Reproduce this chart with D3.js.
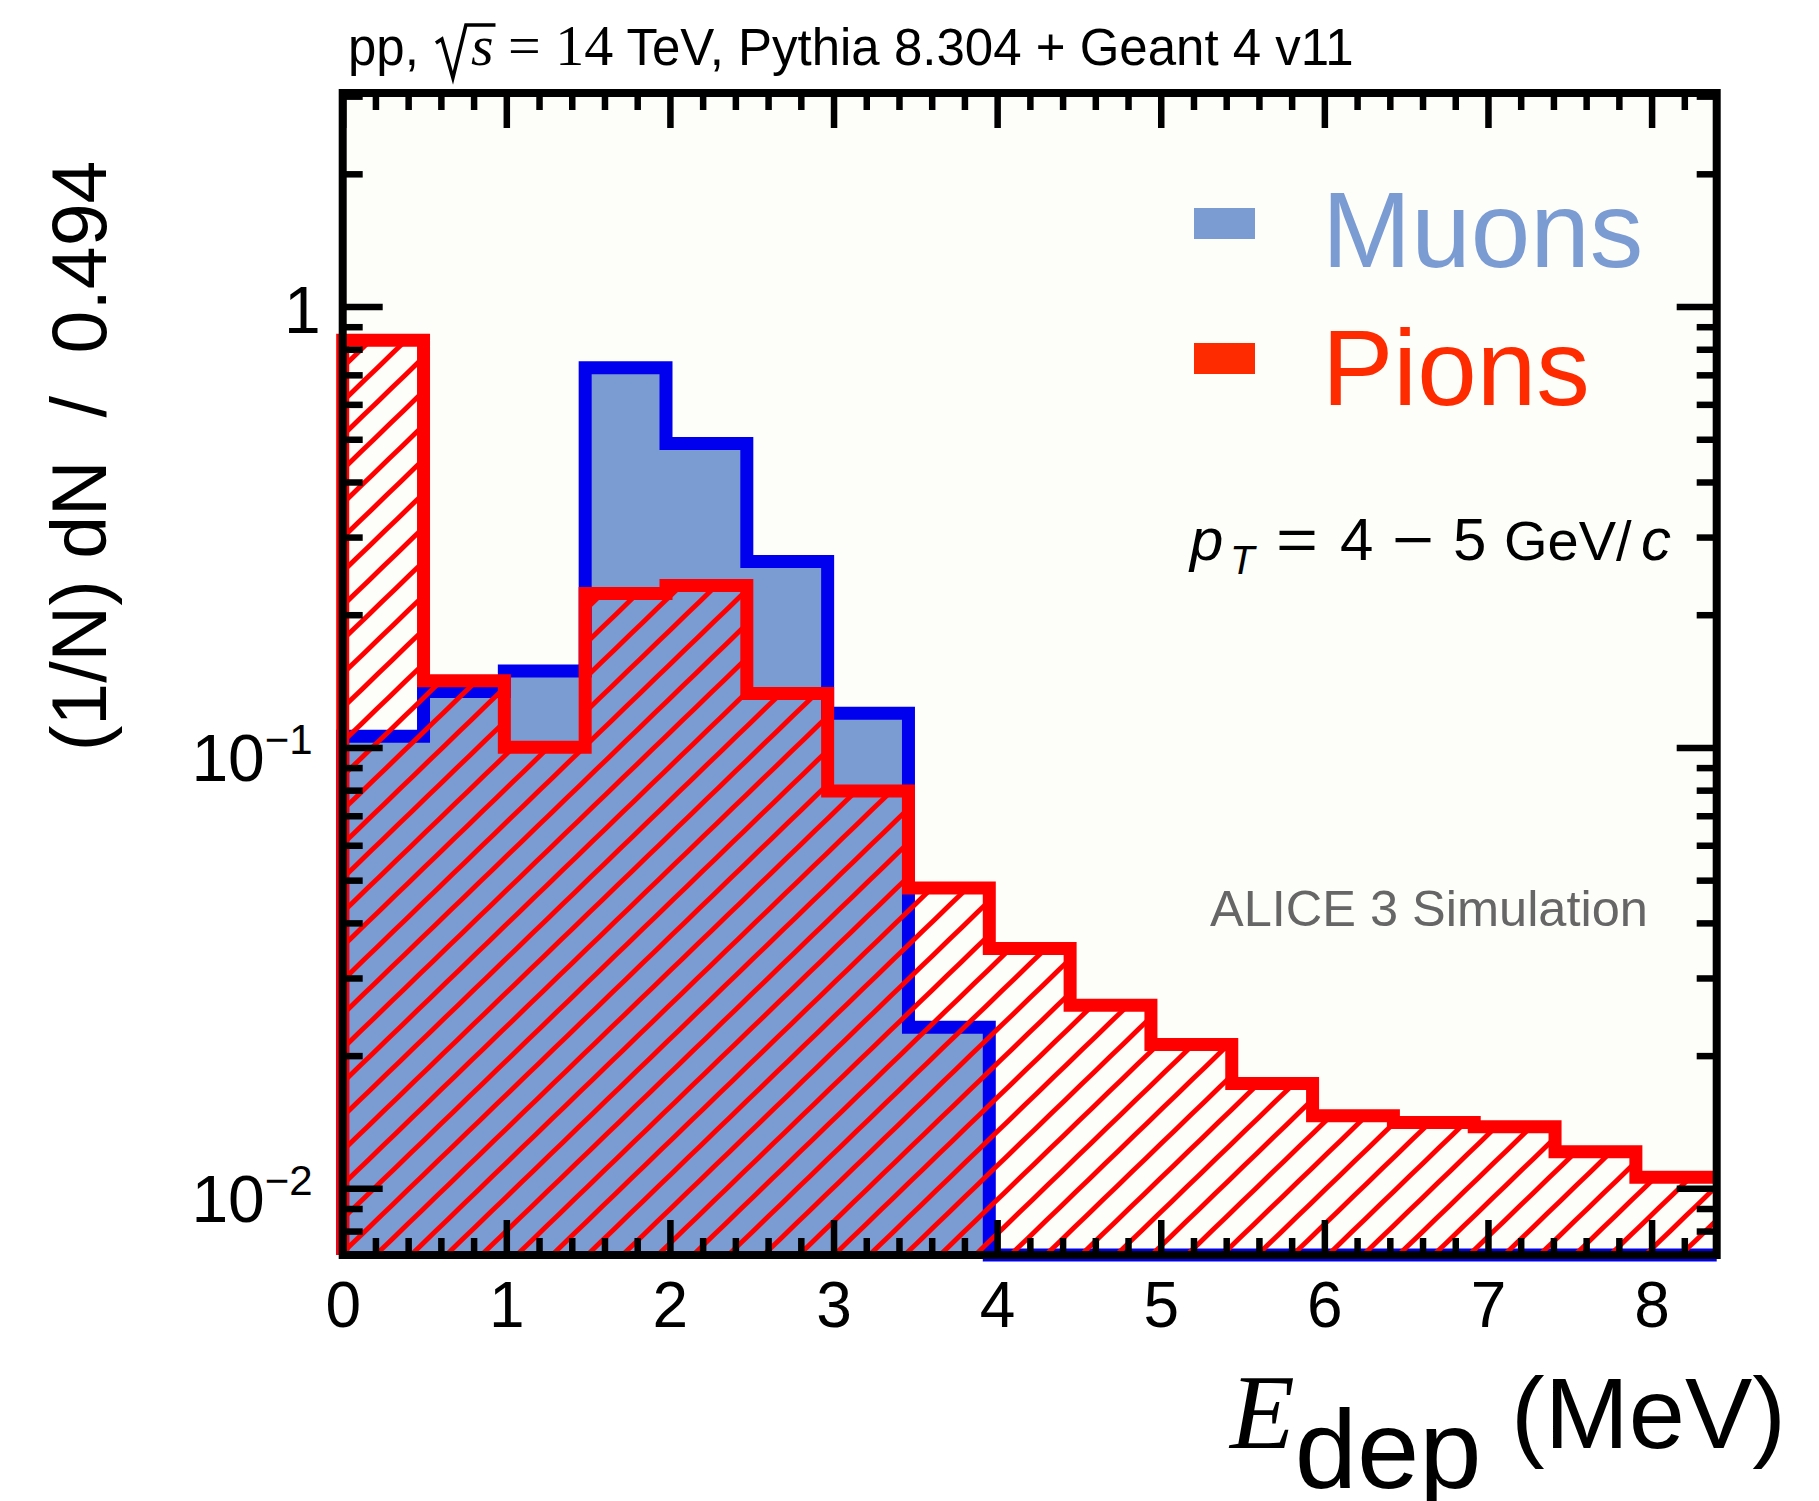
<!DOCTYPE html>
<html><head><meta charset="utf-8">
<script src="https://cdn.jsdelivr.net/npm/d3@7"></script>
<style>
html,body{margin:0;padding:0;background:#fff;}
svg{display:block;}
text{font-family:"Liberation Sans",Arial,Helvetica,sans-serif;}
</style></head><body>
<svg id="chart" width="1819" height="1501" fill="#000"></svg>
<script>
// ---- data ----
const binEdges = [0, 0.494, 0.988, 1.482, 1.976, 2.47, 2.964, 3.458, 3.952, 4.446, 4.94, 5.434, 5.928, 6.422, 6.916, 7.41, 7.904, 8.398];
const muonValues = [0.106, 0.134, 0.149, 0.726, 0.489, 0.264, 0.1195, 0.0232, 0, 0, 0, 0, 0, 0, 0, 0, 0];
const pionValues = [0.838, 0.1416, 0.1001, 0.2235, 0.233, 0.1325, 0.0797, 0.048, 0.035, 0.026, 0.0212, 0.0173, 0.0146, 0.0141, 0.0138, 0.0121, 0.0106];
const seriesNames = ["Muons", "Pions"];
const xMajorTicks = [0, 1, 2, 3, 4, 5, 6, 7, 8];
const xMinorTicks = [0.2, 0.4, 0.6, 0.8, 1.2, 1.4, 1.6, 1.8, 2.2, 2.4, 2.6, 2.8, 3.2, 3.4, 3.6, 3.8, 4.2, 4.4, 4.6, 4.8, 5.2, 5.4, 5.6, 5.8, 6.2, 6.4, 6.6, 6.8, 7.2, 7.4, 7.6, 7.8, 8.2];
const yMajorTicks = [0.01, 0.1, 1];
const yMajorLabels = [["10", "−2"], ["10", "−1"], ["1", ""]];
const yMinorTicks = [0.008, 0.009, 0.02, 0.03, 0.04, 0.05, 0.06, 0.07, 0.08, 0.09, 0.2, 0.3, 0.4, 0.5, 0.6, 0.7, 0.8, 0.9, 2, 3];
const xDomain = [0, 8.398];
const yDomain = [0.00706, 3.05];

// ---- layout ----
const SERIF = "Liberation Serif, Times New Roman, serif";
const SANS = "Liberation Sans, Arial, sans-serif";
const L = 342.7, R = 1716.7, T = 93, B = 1255;
const svg = d3.select("#chart");
const x = d3.scaleLinear().domain(xDomain).range([L, R]);
const y = d3.scaleLog().domain(yDomain).range([B, T]);
const yc = v => y(Math.max(v, yDomain[0]));

const defs = svg.append("defs");
const pat = defs.append("pattern").attr("id", "hatch").attr("patternUnits", "userSpaceOnUse")
  .attr("width", 40).attr("height", 24.5).attr("patternTransform", "rotate(-44)");
pat.append("line").attr("x1", -5).attr("x2", 45).attr("y1", 12.25).attr("y2", 12.25)
  .attr("stroke", "#ff0000").attr("stroke-width", 5);

// frame background
svg.append("rect").attr("x", L).attr("y", T).attr("width", R - L).attr("height", B - T).attr("fill", "#fdfdf9");

function pts(vals) {
  const p = vals.map((v, i) => [binEdges[i], v]);
  p.push([binEdges[binEdges.length - 1], vals[vals.length - 1]]);
  return p;
}
const area = d3.area().curve(d3.curveStepAfter).x(d => x(d[0])).y0(B).y1(d => yc(d[1]));
const line = d3.line().curve(d3.curveStepAfter).x(d => x(d[0])).y(d => yc(d[1]));

// muons
const mp = pts(muonValues);
svg.append("path").attr("d", area(mp)).attr("fill", "#7b9bd3");
svg.append("path").attr("d", line([[0, 0]].concat(mp)))
  .attr("fill", "none").attr("stroke", "#0000ee").attr("stroke-width", 13);

// pions
const pp = pts(pionValues);
svg.append("path").attr("d", area(pp)).attr("fill", "url(#hatch)");
svg.append("path").attr("d", line([[0, 0]].concat(pp)))
  .attr("fill", "none").attr("stroke", "#ff0000").attr("stroke-width", 13);

// axes
function styleAxis(g) {
  g.select(".domain").remove();
  g.selectAll(".tick line").attr("stroke", "#000").attr("stroke-width", 6.5);
}
svg.append("g").attr("transform", `translate(0,${B})`)
  .call(d3.axisBottom(x).tickValues(xMinorTicks).tickSize(-17).tickSizeOuter(0).tickFormat(""))
  .call(styleAxis);
const gxb = svg.append("g").attr("transform", `translate(0,${B})`)
  .call(d3.axisBottom(x).tickValues(xMajorTicks).tickSize(-35).tickSizeOuter(0).tickPadding(27).tickFormat(d3.format("d")))
  .call(styleAxis);
gxb.selectAll(".tick text").attr("font-size", 64).attr("font-family", SANS).attr("fill", "#000");

svg.append("g").attr("transform", `translate(0,${T})`)
  .call(d3.axisTop(x).tickValues(xMinorTicks).tickSize(-17).tickSizeOuter(0).tickFormat(""))
  .call(styleAxis);
svg.append("g").attr("transform", `translate(0,${T})`)
  .call(d3.axisTop(x).tickValues(xMajorTicks).tickSize(-35).tickSizeOuter(0).tickFormat(""))
  .call(styleAxis);

svg.append("g").attr("transform", `translate(${L},0)`)
  .call(d3.axisLeft(y).tickValues(yMinorTicks).tickSize(-20).tickSizeOuter(0).tickFormat(""))
  .call(styleAxis);
const gyl = svg.append("g").attr("transform", `translate(${L},0)`)
  .call(d3.axisLeft(y).tickValues(yMajorTicks).tickSize(-40).tickSizeOuter(0).tickFormat(""))
  .call(styleAxis);
gyl.selectAll(".tick").each(function(d, i) {
  const lab = yMajorLabels[i];
  const t = d3.select(this).select("text").text(null)
    .attr("x", lab[1] ? -30 : -22).attr("dy", null).attr("y", lab[1] ? 33 : 26)
    .attr("text-anchor", "end").attr("font-size", 66).attr("font-family", SANS).attr("fill", "#000");
  t.append("tspan").text(lab[0]);
  if (lab[1]) t.append("tspan").attr("dy", -27).attr("font-size", 42).text(lab[1]);
});
svg.append("g").attr("transform", `translate(${R},0)`)
  .call(d3.axisRight(y).tickValues(yMinorTicks).tickSize(-20).tickSizeOuter(0).tickFormat(""))
  .call(styleAxis);
svg.append("g").attr("transform", `translate(${R},0)`)
  .call(d3.axisRight(y).tickValues(yMajorTicks).tickSize(-40).tickSizeOuter(0).tickFormat(""))
  .call(styleAxis);

// frame
svg.append("rect").attr("x", L).attr("y", T).attr("width", R - L).attr("height", B - T)
  .attr("fill", "none").attr("stroke", "#000").attr("stroke-width", 8);

// title
const title = svg.append("text").attr("x", 348).attr("y", 65).attr("font-size", 51).attr("font-family", SANS);
title.append("tspan").text("pp,");
title.append("tspan").attr("dx", 52).attr("font-family", SERIF).attr("font-style", "italic").attr("font-size", 58).text("s");
title.append("tspan").attr("font-family", SERIF).attr("font-size", 58).text(" = 14");
title.append("tspan").text(" TeV, Pythia 8.304 + Geant 4 v11");
{
  const e = title.node().getExtentOfChar(3);
  const by = 65;
  const rp = d3.path();
  rp.moveTo(e.x - 35, by - 22);
  rp.lineTo(e.x - 29, by - 26);
  rp.lineTo(e.x - 18, by + 13);
  rp.lineTo(e.x - 5, by - 40);
  rp.lineTo(e.x + e.width + 2, by - 40);
  svg.append("path").attr("d", rp.toString()).attr("fill", "none").attr("stroke", "#000").attr("stroke-width", 3.5);
}

// y axis title
svg.append("text").attr("transform", "translate(106,456) rotate(-90)").attr("text-anchor", "middle")
  .attr("font-size", 77).attr("font-family", SANS).style("white-space", "pre").text("(1/N) dN  /  0.494");

// x axis title
const xt = svg.append("text").attr("x", 1230).attr("y", 1448).attr("font-size", 101).attr("font-family", SANS);
xt.append("tspan").attr("font-family", SERIF).attr("font-style", "italic").attr("font-size", 106).text("E");
xt.append("tspan").attr("dy", 40).attr("font-size", 112).text("dep");
xt.append("tspan").attr("dy", -40).attr("x", 1511).text("(MeV)");

// legend
const legColors = ["#7b9bd3", "#fe2b00"];
const legY = [267, 405];
const legBoxY = [208, 343];
seriesNames.forEach((n, i) => {
  svg.append("rect").attr("x", 1194).attr("y", legBoxY[i]).attr("width", 61).attr("height", 31).attr("fill", legColors[i]);
  svg.append("text").attr("x", 1322).attr("y", legY[i]).attr("font-size", 107).attr("font-family", SANS)
    .attr("fill", legColors[i]).text(n);
});

// pT label
const ptParts = [
  {t: "p", x: 1190, f: SERIF, s: 60, st: "italic", dy: 0},
  {t: "T", x: 1230, f: SERIF, s: 40, st: "italic", dy: 14},
  {t: "=", x: 1276, f: SERIF, s: 60, st: "normal", dy: 0, w: 42},
  {t: "4", x: 1340, f: SERIF, s: 60, st: "normal", dy: 0},
  {t: "−", x: 1392, f: SERIF, s: 60, st: "normal", dy: 0, w: 42},
  {t: "5", x: 1453, f: SERIF, s: 60, st: "normal", dy: 0},
  {t: "GeV/", x: 1504, f: SANS, s: 56, st: "normal", dy: 0},
  {t: "c", x: 1641, f: SERIF, s: 60, st: "italic", dy: 0}
];
ptParts.forEach(p => {
  const t = svg.append("text").attr("x", p.x).attr("y", 560 + p.dy).attr("font-family", p.f).attr("font-size", p.s)
    .attr("font-style", p.st).text(p.t);
  if (p.w) t.attr("textLength", p.w).attr("lengthAdjust", "spacingAndGlyphs");
});

// ALICE label
svg.append("text").attr("x", 1210).attr("y", 926).attr("font-size", 50.5).attr("font-family", SANS)
  .attr("fill", "#666666").text("ALICE 3 Simulation");
</script>
</body></html>
